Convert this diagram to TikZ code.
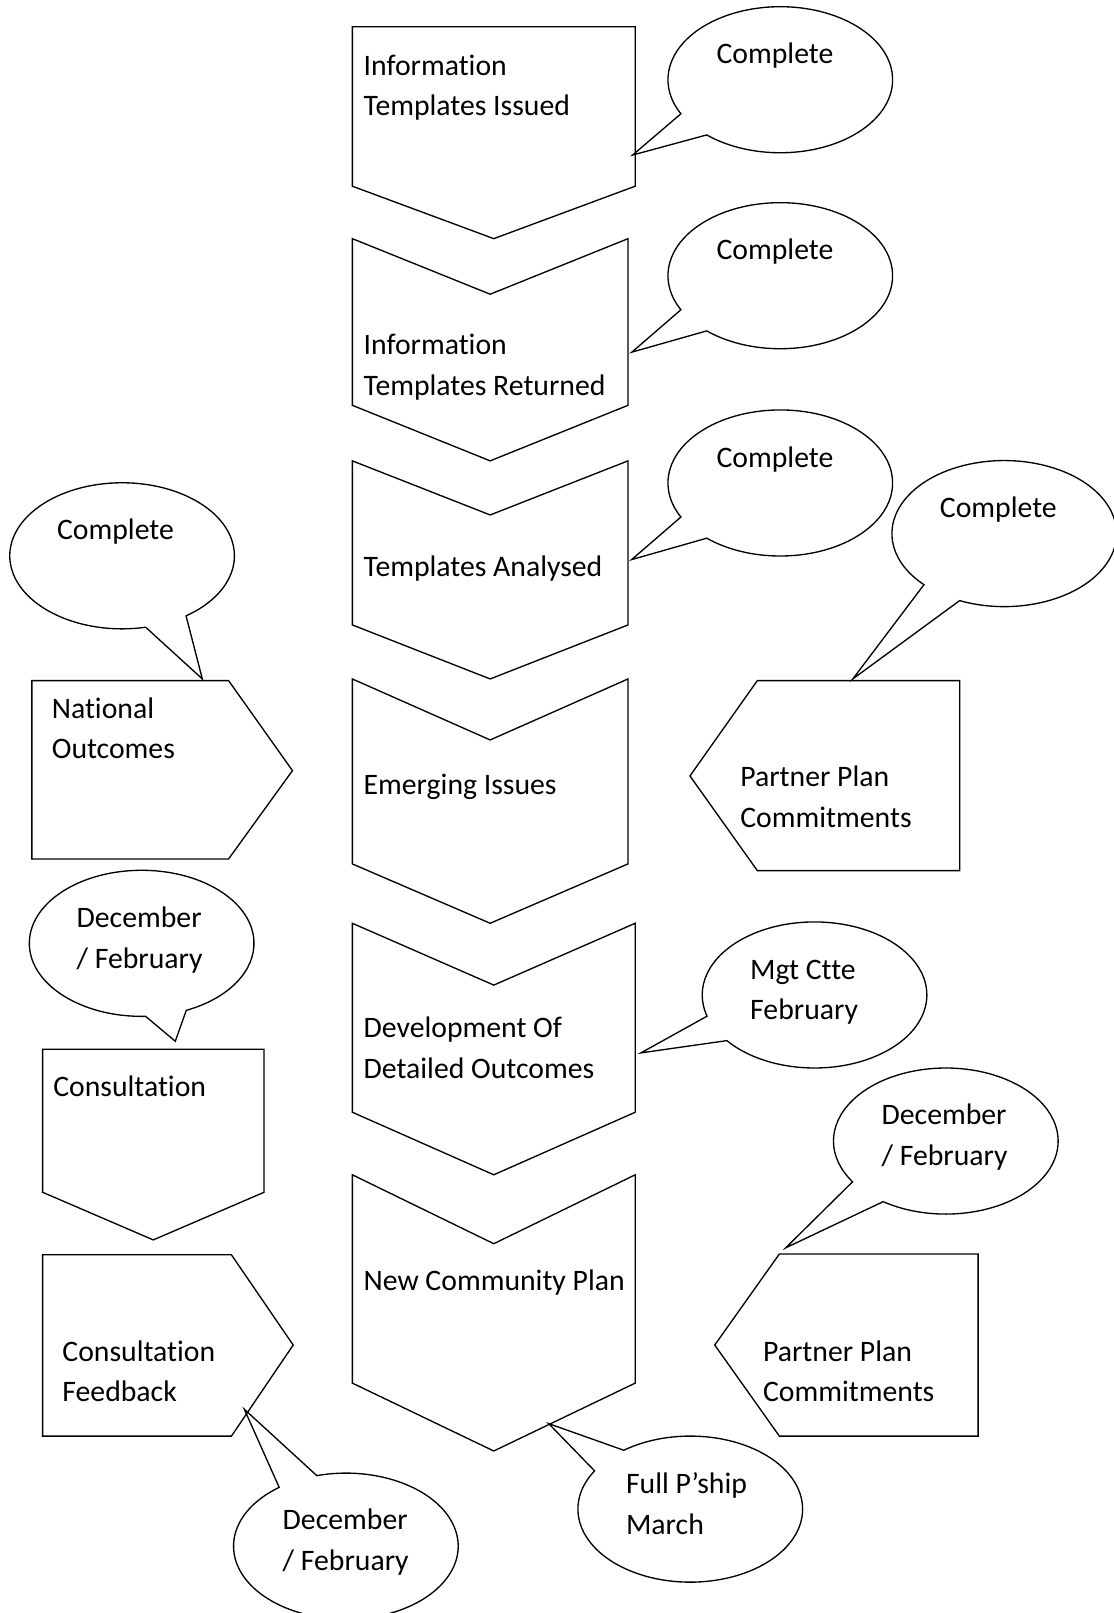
\documentclass[tikz,border=0pt]{standalone}
\usepackage{fontspec}
\setmainfont{Carlito}[Ligatures={NoCommon,NoContextual}]
\newcommand\mlines[1]{\begin{tabular}[t]{@{}l@{}}#1\end{tabular}}
% bubble: #1 centre, #2 angle of tail base B, #3 end angle (tail base A, long way round), #4 tip
\newcommand\bubble[4]{\draw[shp] (#1) ++(#2:109.2 and 71) arc[start angle=#2, end angle=#3, x radius=109.2, y radius=71] -- (#4) -- cycle;}
\begin{document}
\begin{tikzpicture}[x=1pt,y=-1pt,
  shp/.style={draw=black, line width=1.3pt, line join=miter},
  txt/.style={anchor=base west, inner sep=0pt, outer sep=0pt, font=\fontsize{28.9}{39.5}\selectfont}]
\fill[white] (0,0) rectangle (1082.2,1568);
\useasboundingbox (0,0) rectangle (1082.2,1568);

% ---- central chevrons ----
\draw[shp] (342.5,26) -- (617.5,26) -- (617.5,181) -- (480,232) -- (342.5,181) -- cycle;
\draw[shp] (342.5,232) -- (476.5,286) -- (610.5,232) -- (610.5,394) -- (476.5,448) -- (342.5,394) -- cycle;
\draw[shp] (342.5,448) -- (476.5,500.6) -- (610.5,448) -- (610.5,607.5) -- (476.5,660) -- (342.5,607.5) -- cycle;
\draw[shp] (342.5,660) -- (476.5,719.3) -- (610.5,660) -- (610.5,839.8) -- (476.5,897.5) -- (342.5,839.8) -- cycle;
\draw[shp] (342.5,897.5) -- (480,957.6) -- (617.5,897.5) -- (617.5,1081.2) -- (480,1142) -- (342.5,1081.2) -- cycle;
\draw[shp] (342.5,1142) -- (480,1209) -- (617.5,1142) -- (617.5,1344.5) -- (480,1410.5) -- (342.5,1344.5) -- cycle;

\node[txt] (c1) at (353.5,73) {\mlines{Information\\Templates Issued}};
\node[txt] (c2) at (353.5,345) {\mlines{Information\\Templates Returned}};
\node[txt] (c3) at (353.5,560.4) {Templates Analysed};
\node[txt] (c4) at (353.5,772.7) {Emerging Issues};
\node[txt] (c5) at (353.5,1008.8) {\mlines{Development Of\\Detailed Outcomes}};
\node[txt] (c6) at (353.5,1254.2) {New Community Plan};

% ---- side boxes ----
\draw[shp] (31,661.6) -- (222.2,661.6) -- (284.3,749.1) -- (222.2,835) -- (31,835) -- cycle;
\draw[shp] (670.7,754.3) -- (736.2,661.6) -- (933,661.6) -- (933,846.3) -- (736.2,846.3) -- cycle;
\draw[shp] (41.4,1019.9) -- (256.7,1019.9) -- (256.7,1159) -- (149,1205.3) -- (41.4,1159) -- cycle;
\draw[shp] (41.4,1219.8) -- (225,1219.8) -- (285,1307.5) -- (225,1396) -- (41.4,1396) -- cycle;
\draw[shp] (694.8,1307.5) -- (757.6,1219) -- (950.8,1219) -- (950.8,1396) -- (757.6,1396) -- cycle;

\node[txt] (no) at (50.4,698) {\mlines{National\\Outcomes}};
\node[txt] (pp1) at (719.7,764.6) {\mlines{Partner Plan\\Commitments}};
\node[txt] (co) at (51.8,1065.6) {Consultation};
\node[txt] (cf) at (60.7,1323.3) {\mlines{Consultation\\Feedback}};
\node[txt] (pp2) at (741.8,1323.3) {\mlines{Partner Plan\\Commitments}};

% ---- callout centres and tips ----
\coordinate (b1) at (758.5,77.5);   \coordinate (t1) at (615,150.7);
\coordinate (b2) at (758.5,268);    \coordinate (t2) at (614.3,342.3);
\coordinate (b3) at (758.5,469.5);  \coordinate (t3) at (614,544);
\coordinate (lb) at (118.7,540.3);  \coordinate (tlb) at (196.7,660);
\coordinate (rb) at (976.2,518.7);  \coordinate (trb) at (829,660);
\coordinate (dl) at (137.7,917);    \coordinate (tdl) at (170.4,1012.2);
\coordinate (db) at (336.2,1503);   \coordinate (tdb) at (237.5,1369.9);
\coordinate (fp) at (671,1467);     \coordinate (tfp) at (533.4,1383.9);
\coordinate (dr) at (919.4,1109.2); \coordinate (tdr) at (763.8,1213);
\coordinate (mc) at (791.8,967.2);  \coordinate (tmc) at (623,1023.5);

\bubble{b1}{130.9}{-207.8}{t1}
\bubble{b2}{130.9}{-207.8}{t2}
\bubble{b3}{130.9}{-207.8}{t3}
\bubble{lb}{77.9}{415.3}{tlb}
\bubble{rb}{113.4}{-224.4}{trb}
\bubble{dl}{88}{426.6}{tdl}
\bubble{db}{255}{593.6}{tdb}
\bubble{fp}{211.6}{-126.3}{tfp}
\bubble{dr}{123.9}{-213.9}{tdr}
\bubble{mc}{141.3}{-196.9}{tmc}

\node[txt] (b1t) at (696.6,62.2) {Complete};
\node[txt] (b2t) at (696.6,252.7) {Complete};
\node[txt] (b3t) at (696.6,454.2) {Complete};
\node[txt] (lbt) at (55.5,524.8) {Complete};
\node[txt] (rbt) at (913.7,503.2) {Complete};
\node[txt] (dlt) at (74.5,902) {\mlines{December\\/ February}};
\node[txt] (dbt) at (274.8,1487.2) {\mlines{December\\/ February}};
\node[txt] (fpt) at (608.6,1452) {\mlines{Full P’ship\\March}};
\node[txt] (drt) at (857,1093) {\mlines{December\\/ February}};
\node[txt] (mct) at (729.3,952) {\mlines{Mgt Ctte\\February}};
\end{tikzpicture}
\end{document}
